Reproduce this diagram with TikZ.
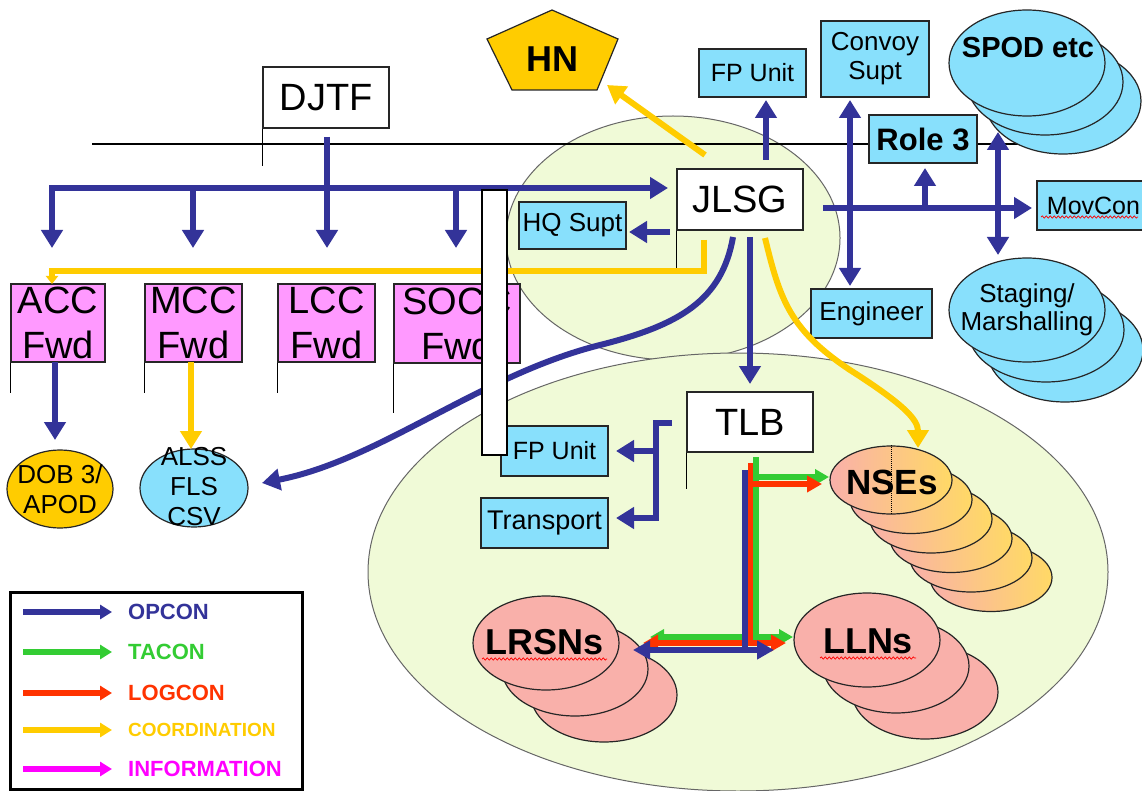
\documentclass[tikz,border=0pt]{standalone}
\usepackage{fontspec}
\setmainfont{Liberation Sans}
\usetikzlibrary{arrows.meta,shapes.geometric,decorations.pathmorphing,calc}
\definecolor{opblue}{HTML}{333399}
\definecolor{coyel}{HTML}{FFCC00}
\definecolor{tagreen}{HTML}{33CC33}
\definecolor{lored}{HTML}{FF3300}
\definecolor{infomag}{HTML}{FF00FF}
\definecolor{lblue}{HTML}{88E0FC}
\definecolor{lpink}{HTML}{FF99FF}
\definecolor{pale}{HTML}{F0FAD7}
\definecolor{salmon}{HTML}{F9B0AA}
\definecolor{nseyel}{HTML}{FFD966}
\newcommand\fsz[2]{\fontsize{#1}{#2}\selectfont}
\tikzset{
  every node/.style={inner sep=0pt},
  boxline/.style={draw=black!85, line width=1.2pt},
  wbox/.style={boxline, fill=white, font=\fsz{38}{40}},
  bbox/.style={boxline, fill=lblue, font=\fsz{26}{29}, align=center},
  pbox/.style={boxline, fill=lpink, font=\fsz{38}{45}, align=center},
  bigell/.style={ellipse, draw=black!60, line width=1pt, fill=pale},
  ellnode/.style={ellipse, draw=black!85, line width=1.2pt},
  flagline/.style={draw=black, line width=1.2pt},
  opline/.style={draw=opblue, line width=6pt},
  op/.style={opline, -{Triangle[length=18pt,width=21pt]}},
  optwo/.style={opline, {Triangle[length=18pt,width=21pt]}-{Triangle[length=18pt,width=21pt]}},
  coline/.style={draw=coyel, line width=6pt},
  co/.style={coline, -{Triangle[length=18pt,width=21pt]}},
  tg/.style={draw=tagreen, line width=5.5pt, -{Triangle[length=14pt,width=15pt]}},
  tr/.style={draw=lored, line width=5.5pt, -{Triangle[length=15pt,width=16pt]}},
  tb/.style={draw=opblue, line width=6pt, -{Triangle[length=17pt,width=18pt]}},
  wavy/.style={draw=red, line width=0.7pt, decorate, decoration={snake, amplitude=1.1pt, segment length=4pt}},
  legar/.style={line width=5.5pt, -{Triangle[length=12pt,width=14pt]}},
}
\begin{document}
\begin{tikzpicture}[x=1pt,y=-1pt]
\useasboundingbox (0,0) rectangle (1142,791);
\clip (0,0) rectangle (1142,791);
\fill[white] (0,0) rectangle (1142,791);

% zones
\node[bigell, minimum width=334, minimum height=244] (jlsgzone) at (673,238) {};
\node[bigell, minimum width=740, minimum height=438] (tlbzone) at (738,572) {};

% thin horizontal line
\draw[flagline] (92,144) -- (1063,144);

% stacks
\foreach \k in {2,1,0}
  \node[ellnode, fill=lblue, minimum width=156, minimum height=106] (spod\k) at ({1027+18*\k},{63+19*\k}) {};
\node[font=\bfseries\fsz{29}{31}] (spodt) at (1028,48) {SPOD etc};
\foreach \k in {2,1,0}
  \node[ellnode, fill=lblue, minimum width=156, minimum height=104] (stag\k) at ({1027+19*\k},{310+20*\k}) {};
\node[font=\fsz{26}{28}, align=center] (stagt) at (1027,310) {Staging/\\Marshalling};

\foreach \k in {5,4,3,2,1,0}
  \node[ellnode, left color=salmon, right color=nseyel, minimum width=122, minimum height=68] (nse\k) at ({891+20*\k},{480+19.5*\k}) {};
\draw[densely dotted, line width=1pt] (nse0.north) -- (nse0.south);
\node[font=\bfseries\fsz{35}{37}] (nset) at (892,482) {NSEs};

\foreach \k in {2,1,0}
  \node[ellnode, fill=salmon, minimum width=146, minimum height=94] (lrsn\k) at ({546+29*\k},{643+26*\k}) {};
\node[font=\bfseries\fsz{36}{38}] (lrsnt) at (545,642) {LRSNs};
\draw[wavy] (482,659) -- (607,659);
\foreach \k in {2,1,0}
  \node[ellnode, fill=salmon, minimum width=146, minimum height=94] (lln\k) at ({867+29*\k},{640+26*\k}) {};
\node[font=\bfseries\fsz{36}{38}] (llnt) at (868,641) {LLNs};
\draw[wavy] (820,658) -- (916,658);

% HN
\draw[boxline, fill=coyel] (552,10) -- (618,39) -- (597,90) -- (512,90) -- (487,39) -- cycle;
\node[font=\bfseries\fsz{36}{38}] (hn) at (552,59) {HN};

% boxes
\node[wbox, minimum width=126, minimum height=61] (djtf) at (326,97.5) {DJTF};
\node[wbox, minimum width=126, minimum height=61] (jlsg) at (740,199.5) {JLSG};
\node[wbox, minimum width=126, minimum height=60] (tlb) at (750,422) {TLB};
\node[bbox, minimum width=107, minimum height=47] (hq) at (572.5,225.5) {HQ Supt};
\node[bbox, minimum width=107, minimum height=48, font=\fsz{25}{28}] (fptop) at (752.5,73) {FP Unit};
\node[bbox, minimum width=108, minimum height=76] (convoy) at (875,59) {Convoy\\Supt};
\node[bbox, minimum width=121, minimum height=49] (eng) at (871.5,313.5) {Engineer};
\node[bbox, minimum width=108, minimum height=48, font=\bfseries\fsz{31}{33}] (role3) at (923,139) {Role 3};
\node[bbox, minimum width=113, minimum height=49, font=\fsz{25}{28}] (movcon) at (1093.5,205.5) {MovCon};
\draw[wavy] (1041,217) -- (1138,217);
\node[bbox, minimum width=107, minimum height=50, font=\fsz{25}{28}] (fpin) at (554.5,451) {FP Unit};
\node[bbox, minimum width=127, minimum height=50, font=\fsz{27}{29}] (transport) at (544.5,523) {Transport};

\node[pbox, minimum width=94, minimum height=78] (acc) at (58,323) {ACC\\Fwd};
\node[pbox, minimum width=97, minimum height=78] (mcc) at (193.5,323) {MCC\\Fwd};
\node[pbox, minimum width=97, minimum height=78] (lcc) at (326.5,323) {LCC\\Fwd};
\node[pbox, minimum width=126, minimum height=79] (socc) at (457,323.5) {SOCC\\Fwd};

% flag lines
\draw[flagline] (djtf.south west) -- ++(0,37);
\draw[flagline] (jlsg.south west) -- ++(0,37);
\draw[flagline] (tlb.south west) -- ++(0,36);
\draw[flagline] (acc.south west) -- ++(0,30);
\draw[flagline] (mcc.south west) -- ++(0,30);
\draw[flagline] (lcc.south west) -- ++(0,30);
\draw[flagline] (socc.south west) -- ++(0,49);

% small ellipses
\node[ellnode, fill=coyel, minimum width=106, minimum height=78] (dob) at (60,489) {};
\node[font=\fsz{26}{30}, align=center] (dobt) at (60,489) {DOB 3/\\APOD};
\node[ellnode, fill=lblue, minimum width=108, minimum height=78] (alss) at (194,488) {};
\node[font=\fsz{26}{30}, align=center] (alsst) at (194,487) {ALSS\\FLS\\CSV};

% DJTF tree
\draw[optwo] (52,248) -- (52,188) -- (668,188);
\draw[op] (193,188) -- (193,248);
\draw[op] (456,188) -- (456,248);
\draw[op] (327,137) -- (327,248);

% coordination
\draw[coline, -{Triangle[length=8pt,width=12pt]}] (704,240) |- (52,271) -- (52,284);
\draw[co] (705,155) -- (607,85);
\draw[co] (765,238) .. controls (780,300) and (790,330) .. (850,370) .. controls (905,405) and (918,420) .. (918,448);
\draw[co] (191,362) -- (191,449);

% opcon from JLSG and others
\draw[op] (55,362) -- (55,440);
\draw[op] (670,232) -- (629,232);
\draw[op] (766,160) -- (766,100);
\draw[optwo] (850,100) -- (850,286);
\draw[op] (823,208) -- (1032,208);
\draw[op] (925,208) -- (925,168);
\draw[optwo] (998,132) -- (998,255);
\draw[op] (733,237) .. controls (722,300) and (680,325) .. (600,345) .. controls (480,375) and (380,460) .. (262,483);
\draw[op] (750,237) -- (750,384);

% TLB bracket
\draw[op] (672,423) -- (656,423) -- (656,518) -- (616,518);
\draw[op] (656,451) -- (616,451);

% TLB coloured relations
\draw[tg] (756,457) -- (756,637) -- (793,637);
\draw[tg] (756,637) -- (650,637);
\draw[tg] (756,477) -- (829,477);
\draw[tr] (750.5,463) -- (750.5,643) -- (786,643);
\draw[tr] (750.5,643) -- (643,643);
\draw[tr] (750.5,484) -- (822,484);
\draw[tb] (744.5,470) -- (744.5,650) -- (774,650);
\draw[tb] (744.5,650) -- (633,650);

% white bar
\node[draw=black, line width=1.8pt, fill=white, minimum width=25, minimum height=265] (bar) at (494.5,322.5) {};

% legend
\node[draw=black, line width=3pt, minimum width=292, minimum height=197] (legend) at (156,690.5) {};
\foreach \legy/\legc/\legt/\legf in {612/opblue/OPCON/22, 652/tagreen/TACON/22, 693/lored/LOGCON/22, 730/coyel/COORDINATION/19, 769/infomag/INFORMATION/22} {
  \draw[legar, draw=\legc] (23,\legy) -- (112,\legy);
  \node[anchor=west, text=\legc, font=\bfseries\fsz{\legf}{\legf}] (leg\legy) at (128,\legy) {\legt};
}
\end{tikzpicture}
\end{document}
